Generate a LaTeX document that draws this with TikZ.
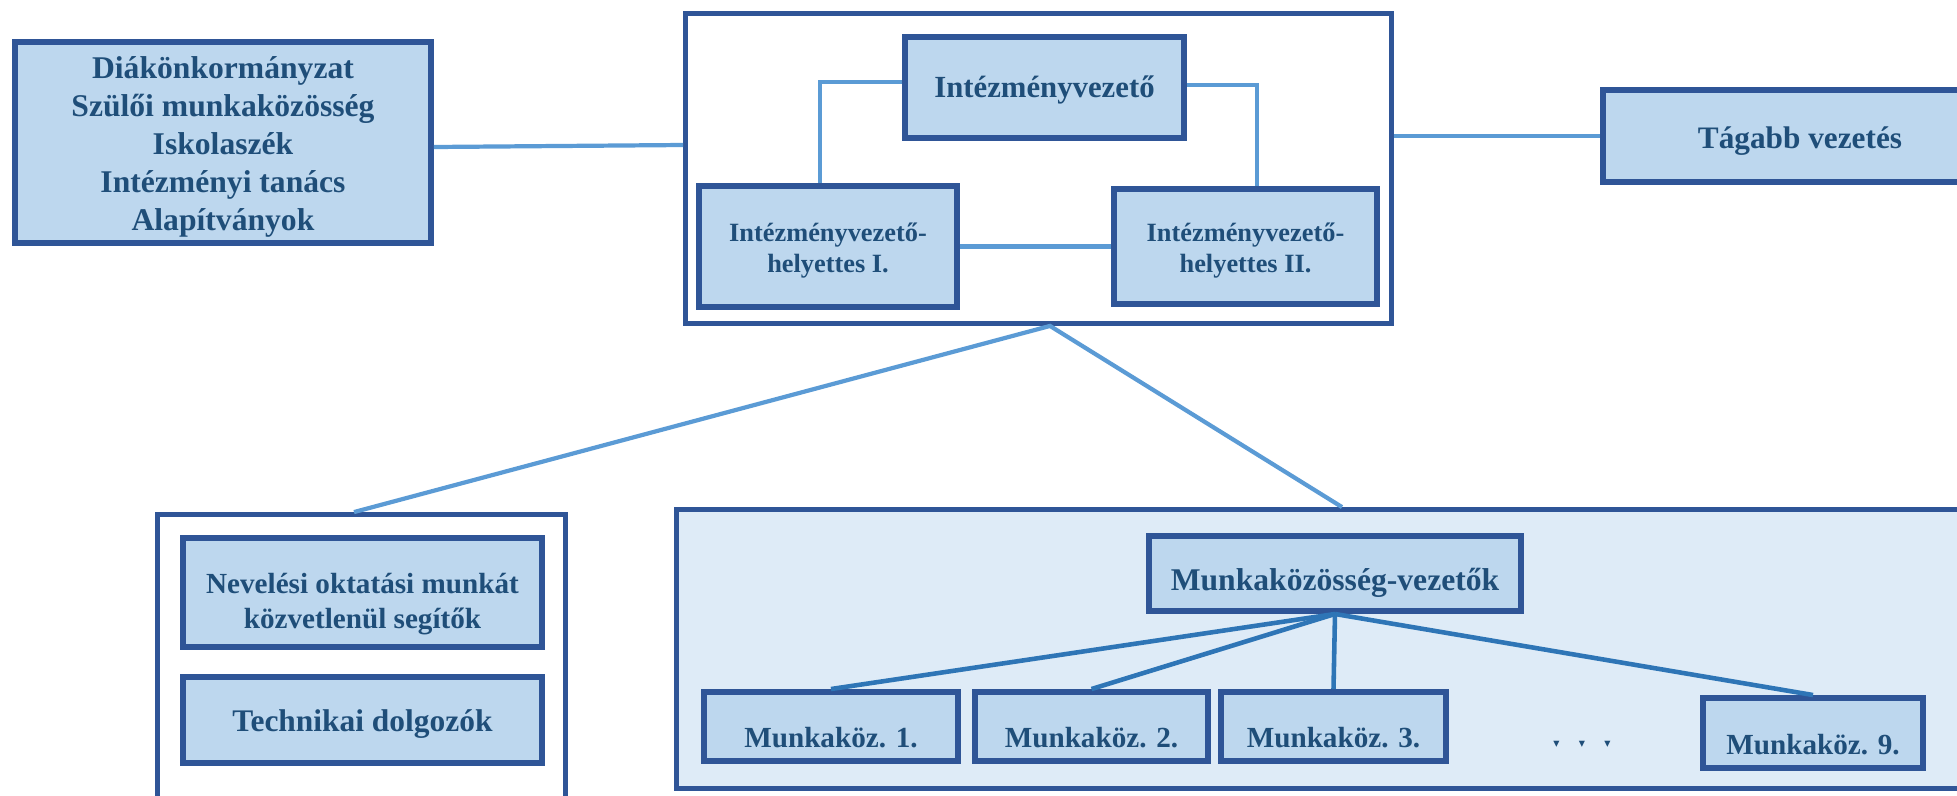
\documentclass[tikz,border=0pt]{standalone}
\usepackage{fontspec}
\setmainfont{Liberation Serif}
\newfontfamily\symbfont{DejaVu Sans}
\usetikzlibrary{positioning}
\definecolor{boxline}{HTML}{2F5597}
\definecolor{boxfill}{HTML}{BDD7EE}
\definecolor{boxtext}{HTML}{1F4E79}
\definecolor{linklight}{HTML}{5B9BD5}
\definecolor{linkdark}{HTML}{2E75B6}
\definecolor{framefill}{HTML}{DEEBF7}
\tikzset{
  orgbox/.style={draw=boxline,fill=boxfill,line width=3.4pt,text=boxtext,
                 align=center,inner sep=0pt,text depth=0pt},
  outerframe/.style={draw=boxline,line width=2.8pt,inner sep=0pt},
  linkline/.style={draw=linklight,line width=2.4pt},
  subline/.style={draw=linkdark,line width=2.6pt},
  munkbox/.style={orgbox,minimum height=1.38cm,text height=24pt,
                  font=\bfseries\fontsize{16.6}{20}\selectfont},
}

\begin{document}
\begin{tikzpicture}[x=0.02cm,y=-0.02cm]
  \useasboundingbox (0,0) rectangle (1957,795);
  \clip (0,0) rectangle (1957,795);

  % frames
  \node[outerframe,fill=white,minimum width=14.12cm,minimum height=6.2cm]
    (top) at (1038.5,168.5) {};
  \node[outerframe,fill=white,minimum width=8.16cm,minimum height=6.26cm]
    (leftframe) at (361.5,671) {};
  \node[outerframe,fill=framefill,minimum width=26.62cm,minimum height=5.58cm]
    (bigframe) at (1342,649) {};

  % upper boxes
  \node[orgbox,minimum width=8.32cm,minimum height=4.02cm,text height=99.6pt,
        font=\bfseries\fontsize{18}{21.6}\selectfont]
    (civil) at (223,142.5)
    {Diákönkormányzat\\Szülői munkaközösség\\Iskolaszék\\Intézményi tanács\\Alapítványok};
  \node[orgbox,minimum width=5.58cm,minimum height=2.02cm,text height=11.4pt,
        font=\bfseries\fontsize{17.5}{21}\selectfont]
    (ivez) at (1044.5,87.5) {Intézményvezető};
  \node[orgbox,minimum width=5.16cm,minimum height=2.42cm,text height=30pt,
        font=\bfseries\fontsize{15}{18}\selectfont]
    (ivh1) at (828,246.5) {Intézményvezető-\\helyettes I.};
  \node[orgbox,minimum width=5.26cm,minimum height=2.3cm,text height=30pt,
        font=\bfseries\fontsize{15}{18}\selectfont]
    (ivh2) at (1245.5,246.5) {Intézményvezető-\\helyettes II.};
  \node[orgbox,minimum width=7.88cm,minimum height=1.84cm,text height=14pt,
        font=\bfseries\fontsize{17.8}{21}\selectfont]
    (tagabb) at (1800,136) {Tágabb vezetés};

  % lower left
  \node[orgbox,minimum width=7.18cm,minimum height=2.18cm,text height=41pt,
        font=\bfseries\fontsize{16.6}{19.8}\selectfont]
    (nev) at (362.5,592.5) {Nevelési oktatási munkát\\közvetlenül segítők};
  \node[orgbox,minimum width=7.18cm,minimum height=1.72cm,text height=13.4pt,
        font=\bfseries\fontsize{17.9}{21}\selectfont]
    (tech) at (362.5,720) {Technikai dolgozók};

  % lower right
  \node[orgbox,minimum width=7.44cm,minimum height=1.5cm,text height=19pt,
        font=\bfseries\fontsize{18}{21}\selectfont]
    (mkv) at (1335,573.5) {Munkaközösség-vezetők};
  \node[munkbox,minimum width=5.08cm] (m1) at (831,726.5) {Munkaköz. 1.};
  \node[munkbox,minimum width=4.66cm] (m2) at (1091.5,726.5) {Munkaköz. 2.};
  \node[munkbox,minimum width=4.5cm] (m3) at (1333.5,726.5) {Munkaköz. 3.};
  \node[munkbox,minimum width=4.4cm,minimum height=1.4cm] (m9) at (1813,733) {Munkaköz. 9.};
  \node[text=boxtext,font=\symbfont\fontsize{7}{8}\selectfont,inner sep=0pt]
    (dots) at (1582,744) {▾\hspace{11pt}▾\hspace{11pt}▾};

  % connectors
  \draw[linkline] (civil.east |- 0,147) -- (top.west |- 0,145);
  \draw[linkline] (top.east |- tagabb.west) -- (tagabb.west);
  \draw[linkline] (ivez.west |- 0,82) -| ([xshift=-0.16cm]ivh1.north);
  \draw[linkline] (ivez.east |- 0,85) -| ([xshift=0.23cm]ivh2.north);
  \draw[linkline] (ivh1.east) -- (ivh2.west);
  \coordinate (topfoot) at ([xshift=0.23cm]top.south);
  \draw[linkline] ([xshift=-0.15cm]leftframe.north) -- (topfoot) -- (bigframe.north);
  \foreach \m in {m1,m2,m3,m9}
    \draw[subline] (mkv.south) -- (\m.north);
\end{tikzpicture}
\end{document}
